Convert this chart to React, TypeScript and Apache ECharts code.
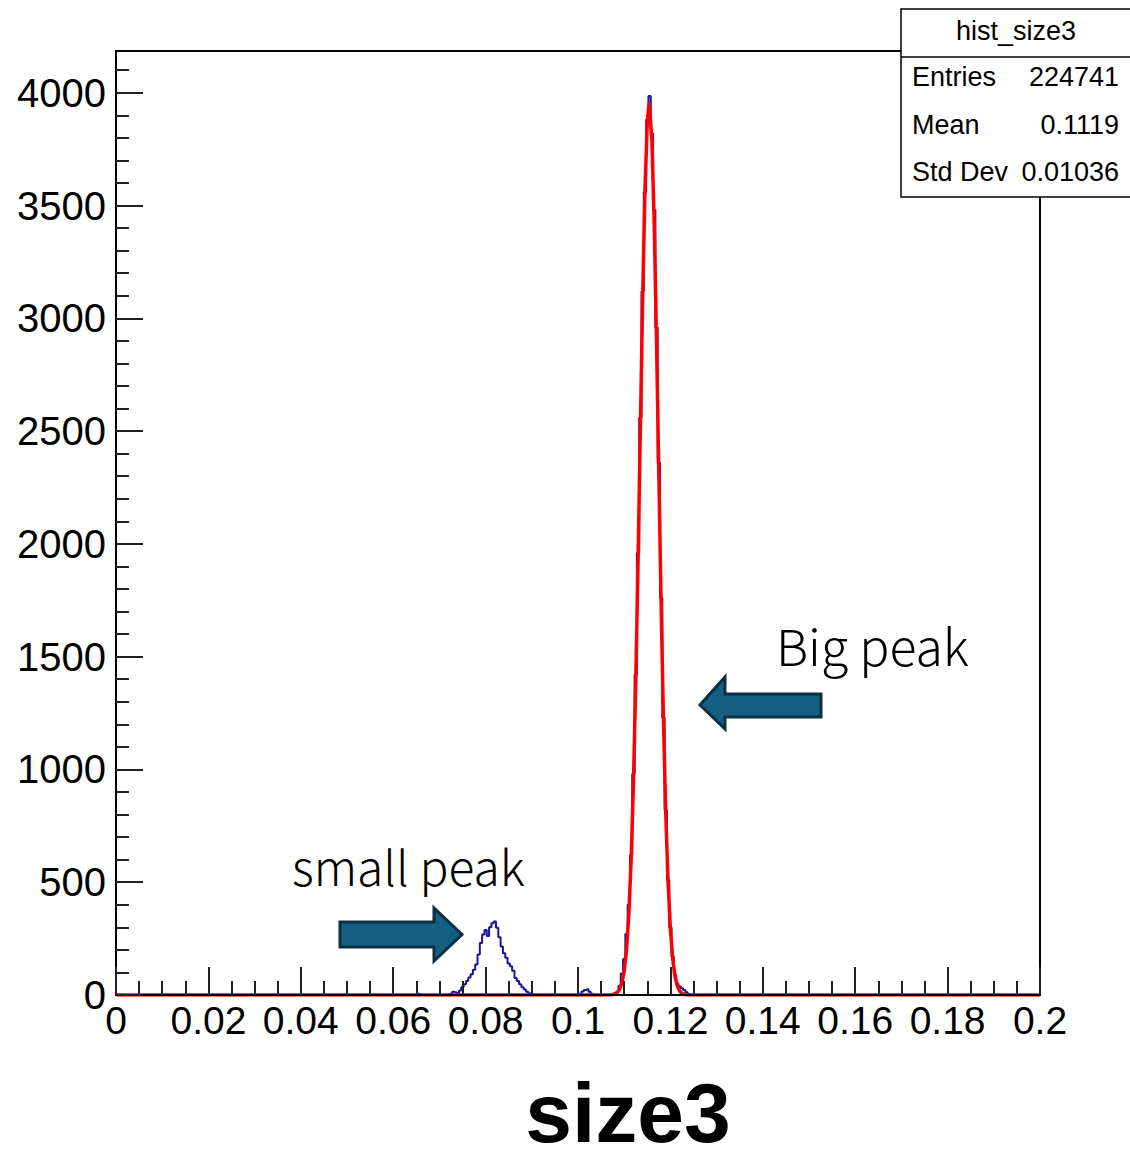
import React, { useEffect, useRef } from "react";
import * as echarts from "echarts";

// ---- axis ticks / labels ----
const xMajorTicks = [0, 0.02, 0.04, 0.06, 0.08, 0.1, 0.12, 0.14, 0.16, 0.18, 0.2];
const yMajorTicks = [0, 500, 1000, 1500, 2000, 2500, 3000, 3500, 4000];
const xMinorTicks = Array.from({ length: 41 }, (_, i) => +(i * 0.005).toFixed(3));
const yMinorTicks = Array.from({ length: 42 }, (_, i) => i * 100);

// ---- histogram hist_size3 (bin centres / contents, zero elsewhere) ----
const histX = [
  0, 0.065, 0.0655, 0.066,
  0.072, 0.0725, 0.073, 0.0735, 0.074, 0.0745, 0.075, 0.0755, 0.076, 0.0765, 0.077,
  0.0775, 0.078, 0.0785, 0.079, 0.0795, 0.08, 0.0805, 0.081, 0.0815, 0.082, 0.0825,
  0.083, 0.0835, 0.084, 0.0845, 0.085, 0.0855, 0.086, 0.0865, 0.087, 0.0875, 0.088,
  0.0885, 0.089, 0.0895, 0.09, 0.0905,
  0.1, 0.1005, 0.101, 0.1015, 0.102, 0.1025, 0.103, 0.1035,
  0.107, 0.1075, 0.108, 0.1085, 0.109, 0.1095, 0.11, 0.1105, 0.111, 0.1115, 0.112,
  0.1125, 0.113, 0.1135, 0.114, 0.1145, 0.115, 0.1155, 0.116, 0.1165, 0.117, 0.1175,
  0.118, 0.1185, 0.119, 0.1195, 0.12, 0.1205, 0.121, 0.1215, 0.122, 0.1225, 0.123,
  0.1235, 0.124, 0.1245,
  0.2,
];
const histY = [
  0, 0, 6, 0,
  0, 6, 14, 12, 8, 20, 35, 48, 62, 78, 92,
  112, 135, 180, 230, 268, 288, 262, 300, 318, 326, 298,
  256, 215, 185, 165, 140, 128, 108, 75, 62, 48, 34,
  24, 14, 8, 4, 0,
  0, 5, 15, 22, 25, 14, 5, 0,
  0, 3, 8, 14, 40, 95, 160, 270, 400, 620, 980,
  1420, 1960, 2560, 3120, 3560, 3880, 3986, 3820, 3480, 2960, 2360,
  1760, 1230, 820, 510, 300, 170, 90, 50, 38, 30, 22,
  12, 4, 0,
  0,
];

// ---- gaussian fit curve (red) ----
const fitX = [
  0, 0.1065, 0.107, 0.1075, 0.108, 0.1085, 0.109, 0.1095, 0.11, 0.1105, 0.111,
  0.1115, 0.112, 0.1125, 0.113, 0.1135, 0.114, 0.1145, 0.115, 0.1154, 0.116,
  0.1165, 0.117, 0.1175, 0.118, 0.1185, 0.119, 0.1195, 0.12, 0.1205, 0.121,
  0.1215, 0.122, 0.1225, 0.123, 0.1235, 0.124, 0.2,
];
const fitY = [
  0, 0, 0.6, 1.7, 4.4, 10.7, 24.5, 52.5, 105.6, 200, 356,
  597, 938, 1387, 1927, 2519, 3093, 3571, 3874, 3956, 3789,
  3415, 2893, 2304, 1725, 1214, 803, 499, 292, 160, 83,
  40, 18, 7.9, 3.2, 1.2, 0.4, 0,
];

// ---- statistics box ----
const statsTitle = "hist_size3";
const statsLabels = ["Entries", "Mean", "Std Dev"];
const statsValues = ["224741", "0.1119", "0.01036"];

const AXIS_FONT = "'Liberation Sans', Arial, Helvetica, sans-serif";
const NOTE_FONT = "'Noto Sans CJK JP', 'Noto Sans', sans-serif";

export default function App() {
  const ref = useRef<HTMLDivElement>(null);

  useEffect(() => {
    if (!ref.current) return;
    const chart = echarts.init(ref.current, undefined, { renderer: "svg" });

    const fmtX = (v: number) => String(+Number(v).toFixed(3));
    const fmtY = (v: number) => String(Math.round(v));

    const statsRows = statsLabels.flatMap((lab, i) => {
      const y = [77, 125, 172][i];
      return [
        {
          type: "text",
          z: 101,
          x: 912,
          y,
          style: {
            text: lab,
            fill: "#000",
            font: `27px ${AXIS_FONT}`,
            textAlign: "left",
            textVerticalAlign: "middle",
            align: "left",
            verticalAlign: "middle",
          },
        },
        {
          type: "text",
          z: 101,
          x: 1119,
          y,
          style: {
            text: statsValues[i],
            fill: "#000",
            font: `27px ${AXIS_FONT}`,
            textAlign: "right",
            textVerticalAlign: "middle",
            align: "right",
            verticalAlign: "middle",
          },
        },
      ];
    });

    const arrowStyle = { fill: "#156082", stroke: "#0c2f42", lineWidth: 3, lineJoin: "miter" };

    chart.setOption({
      animation: false,
      backgroundColor: "#fff",
      grid: {
        left: 116,
        top: 51,
        width: 924,
        height: 944,
        show: true,
        borderColor: "#000",
        borderWidth: 2,
        backgroundColor: "transparent",
        containLabel: false,
        outerBoundsMode: "none",
      },
      xAxis: [
        {
          type: "value",
          min: 0,
          max: 0.2,
          position: "bottom",
          z: 5,
          axisLine: { show: true, onZero: false, lineStyle: { color: "#000", width: 2 } },
          axisTick: {
            show: true,
            inside: true,
            length: 28,
            customValues: xMajorTicks,
            lineStyle: { color: "#222", width: 2 },
          },
          axisLabel: {
            show: true,
            customValues: xMajorTicks,
            formatter: fmtX,
            fontSize: 39,
            fontFamily: AXIS_FONT,
            color: "#000",
            margin: 6,
            hideOverlap: false,
          },
          splitLine: { show: false },
        },
        {
          type: "value",
          min: 0,
          max: 0.2,
          position: "bottom",
          z: 5,
          axisLine: { show: false },
          axisTick: {
            show: true,
            inside: true,
            length: 14,
            customValues: xMinorTicks,
            lineStyle: { color: "#222", width: 2 },
          },
          axisLabel: { show: false },
          splitLine: { show: false },
        },
      ],
      yAxis: [
        {
          type: "value",
          min: 0,
          max: 4185,
          position: "left",
          z: 5,
          axisLine: { show: true, onZero: false, lineStyle: { color: "#000", width: 2 } },
          axisTick: {
            show: true,
            inside: true,
            length: 27,
            customValues: yMajorTicks,
            lineStyle: { color: "#222", width: 2 },
          },
          axisLabel: {
            show: true,
            customValues: yMajorTicks,
            formatter: fmtY,
            fontSize: 40,
            fontFamily: AXIS_FONT,
            color: "#000",
            margin: 10,
            hideOverlap: false,
          },
          splitLine: { show: false },
        },
        {
          type: "value",
          min: 0,
          max: 4185,
          position: "left",
          z: 5,
          axisLine: { show: false },
          axisTick: {
            show: true,
            inside: true,
            length: 13,
            customValues: yMinorTicks,
            lineStyle: { color: "#222", width: 2 },
          },
          axisLabel: { show: false },
          splitLine: { show: false },
        },
      ],
      series: [
        {
          name: "hist_size3",
          type: "line",
          xAxisIndex: 0,
          yAxisIndex: 0,
          step: "middle",
          showSymbol: false,
          symbol: "none",
          data: histX.map((x, i) => [x, histY[i]]),
          lineStyle: { color: "#1515a0", width: 2 },
          z: 2,
        },
        {
          name: "fit",
          type: "line",
          xAxisIndex: 0,
          yAxisIndex: 0,
          showSymbol: false,
          symbol: "none",
          data: fitX.map((x, i) => [x, fitY[i]]),
          lineStyle: { color: "#ff0000", width: 3.5 },
          z: 3,
        },
      ],
      graphic: [
        // stats box
        {
          type: "rect",
          z: 100,
          shape: { x: 901, y: 9, width: 240, height: 188 },
          style: { fill: "#fff", stroke: "#000", lineWidth: 1.5 },
        },
        {
          type: "line",
          z: 101,
          shape: { x1: 901, y1: 57, x2: 1140, y2: 57 },
          style: { stroke: "#000", lineWidth: 1.5 },
        },
        {
          type: "text",
          z: 101,
          x: 1016,
          y: 31,
          style: {
            text: statsTitle,
            fill: "#000",
            font: `27px ${AXIS_FONT}`,
            textAlign: "center",
            textVerticalAlign: "middle",
            align: "center",
            verticalAlign: "middle",
          },
        },
        ...statsRows,
        // x-axis title
        {
          type: "text",
          z: 101,
          x: 628,
          y: 1113,
          style: {
            text: "size3",
            fill: "#000",
            font: `bold 84px ${AXIS_FONT}`,
            textAlign: "center",
            textVerticalAlign: "middle",
            align: "center",
            verticalAlign: "middle",
          },
        },
        // annotations
        {
          type: "text",
          z: 101,
          x: 292,
          y: 865,
          style: {
            text: "small peak",
            fill: "#000",
            font: `300 48px ${NOTE_FONT}`,
            textAlign: "left",
            textVerticalAlign: "middle",
            align: "left",
            verticalAlign: "middle",
          },
        },
        {
          type: "text",
          z: 101,
          x: 776,
          y: 644,
          style: {
            text: "Big peak",
            fill: "#000",
            font: `300 50px ${NOTE_FONT}`,
            textAlign: "left",
            textVerticalAlign: "middle",
            align: "left",
            verticalAlign: "middle",
          },
        },
        {
          type: "polygon",
          z: 101,
          shape: {
            points: [
              [340, 922], [434, 922], [434, 908], [462, 934.5],
              [434, 961], [434, 947], [340, 947],
            ],
          },
          style: arrowStyle,
        },
        {
          type: "polygon",
          z: 101,
          shape: {
            points: [
              [821, 694], [725, 694], [725, 677], [700, 705],
              [725, 729], [725, 717], [821, 717],
            ],
          },
          style: arrowStyle,
        },
      ],
    });

    return () => chart.dispose();
  }, []);

  return (
    <div
      ref={ref}
      style={{ position: "absolute", left: 0, top: 0, width: 1130, height: 1149, background: "#fff" }}
    />
  );
}
